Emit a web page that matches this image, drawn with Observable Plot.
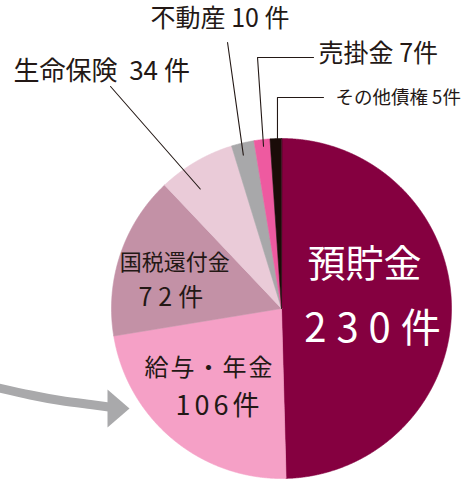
<!DOCTYPE html>
<html><head><meta charset="utf-8">
<script src="https://cdn.jsdelivr.net/npm/d3@7"></script>
<script src="https://cdn.jsdelivr.net/npm/@observablehq/plot@0.6"></script>
<style>html,body{margin:0;padding:0;background:#fff}#chart svg{display:block}</style>
</head><body><div id="chart"></div>
<script>
// ---- data ----
const categories = ["預貯金", "給与・年金", "国税還付金", "生命保険", "不動産", "売掛金", "その他債権"];
const counts = [230, 106, 72, 34, 10, 7, 5];
const colors = ["#850040", "#f5a0c6", "#c391a6", "#eacbd8", "#a8a8aa", "#ee5aa0", "#1a0c08"];
const unit = "件";

// ---- layout ----
const W = 470, H = 479, CX = 281, CY = 308, R = 170;
const INK = "#231815", ARROW = "#a9a9ab";
const FONT = "'Noto Sans CJK JP', 'Noto Sans', sans-serif";
// interior labels: offsets (px) from slice centroid at 0.6R
const inner = [
  {cat: "預貯金", fill: "#ffffff", name: {dx: -19, dy: -42, size: 38, ls: 0}, num: {dx: -6, dy: 22, size: 40, ls: 10}},
  {cat: "給与・年金", fill: INK, name: {dx: -7, dy: -19, size: 24, ls: 2}, num: {dx: 3, dy: 19, size: 27, ls: 4}},
  {cat: "国税還付金", fill: INK, name: {dx: -10, dy: -13, size: 22, ls: 0}, num: {dx: -11, dy: 22, size: 25, ls: 6}}
];
// callouts: t = position within slice, r = radius fraction; path/text offsets in px from that point
const callouts = [
  {cat: "生命保険", t: 0.35, r: 0.85, path: [[-89.7, -102.5]], text: [-186.7, -117.5], size: 26, sep: "  ", sep2: " "},
  {cat: "不動産", t: 0.40, r: 0.93, path: [[-15.8, -112.6]], text: [-92.8, -135.6], size: 25, sep: " ", sep2: " "},
  {cat: "売掛金", t: 0.55, r: 0.96, path: [[-6, -88.8], [50, -88.8]], text: [55, -91.8], size: 25, sep: " ", sep2: ""},
  {cat: "その他債権", t: 0.65, r: 1.00, path: [[0, -41], [46, -41]], text: [58, -40], size: 18.5, sep: " ", sep2: ""}
];
// decorative arrow (px)
const arrowShaft = [[-6, 386.5], [30, 394.5], [60, 400], [90, 404], [112, 407]];
const arrowHead = [[107, 389], [129, 408], [107, 427]];

// ---- geometry ----
const total = d3.sum(counts);
let acc = 0;
const slices = categories.map((cat, i) => {
  const a0 = acc / total * 2 * Math.PI; acc += counts[i];
  const a1 = acc / total * 2 * Math.PI;
  return {cat, count: counts[i], a0, a1};
});
const byCat = new Map(slices.map(s => [s.cat, s]));
const polar = (a, r) => [r * Math.sin(a), -r * Math.cos(a)]; // unit coords, y down
const px = ([x, y]) => [(x - CX) / R, (y - CY) / R];

const poly = slices.flatMap(s => {
  const n = Math.max(4, Math.ceil((s.a1 - s.a0) / (Math.PI / 720)));
  const pts = [{cat: s.cat, x: 0, y: 0}];
  for (let k = 0; k <= n; k++) {
    const [x, y] = polar(s.a0 + (s.a1 - s.a0) * k / n, 1);
    pts.push({cat: s.cat, x, y});
  }
  return pts;
});

const innerText = inner.flatMap(L => {
  const s = byCat.get(L.cat);
  const [x, y] = polar((s.a0 + s.a1) / 2, 0.6);
  return [
    {x: x + L.name.dx / R, y: y + L.name.dy / R, text: s.cat, size: L.name.size, fill: L.fill, ls: L.name.ls},
    {x: x + L.num.dx / R, y: y + L.num.dy / R, text: s.count + unit, size: L.num.size, fill: L.fill, ls: L.num.ls}
  ];
});

const leaderPts = [], calloutText = [];
callouts.forEach(c => {
  const s = byCat.get(c.cat);
  const [x0, y0] = polar(s.a0 + (s.a1 - s.a0) * c.t, c.r);
  leaderPts.push({id: c.cat, x: x0, y: y0});
  c.path.forEach(([dx, dy]) => leaderPts.push({id: c.cat, x: x0 + dx / R, y: y0 + dy / R}));
  calloutText.push({x: x0 + c.text[0] / R, y: y0 + c.text[1] / R, text: s.cat + c.sep + s.count + c.sep2 + unit, size: c.size});
});

const shaft = arrowShaft.map(p => { const [x, y] = px(p); return {x, y}; });
const head = arrowHead.map(p => { const [x, y] = px(p); return {x, y}; });

const chart = Plot.plot({
  width: W, height: H, margin: 0,
  style: {fontFamily: FONT, background: "#fff", overflow: "visible"},
  x: {type: "linear", domain: [-CX / R, (W - CX) / R], range: [0, W], axis: null},
  y: {type: "linear", domain: [-CY / R, (H - CY) / R], range: [0, H], axis: null},
  color: {domain: categories, range: colors},
  marks: [
    Plot.line(poly, {x: "x", y: "y", z: "cat", fill: "cat", stroke: "cat", strokeWidth: 0.6, curve: "linear-closed"}),
    Plot.line(leaderPts, {x: "x", y: "y", z: "id", stroke: INK, strokeWidth: 1.1, curve: "linear"}),
    Plot.line(shaft, {x: "x", y: "y", stroke: ARROW, strokeWidth: 9, curve: "natural", strokeLinecap: "butt"}),
    Plot.line(head, {x: "x", y: "y", fill: ARROW, stroke: "none", curve: "linear-closed"}),
    ...innerText.map(d => Plot.text([d], {x: "x", y: "y", text: "text", fill: d.fill, fontSize: d.size, textAnchor: "middle", lineAnchor: "middle", ariaDescription: "ls:" + d.ls})),
    ...calloutText.map(d => Plot.text([d], {x: "x", y: "y", text: "text", fill: INK, fontSize: d.size, textAnchor: "start", lineAnchor: "middle"}))
  ]
});
// apply letter spacing to labels that request it
d3.select(chart).selectAll("g[aria-description^='ls:']").each(function () {
  const ls = +this.getAttribute("aria-description").slice(3);
  if (ls) d3.select(this).style("letter-spacing", ls + "px");
});
document.getElementById("chart").appendChild(chart);
</script>
</body></html>
